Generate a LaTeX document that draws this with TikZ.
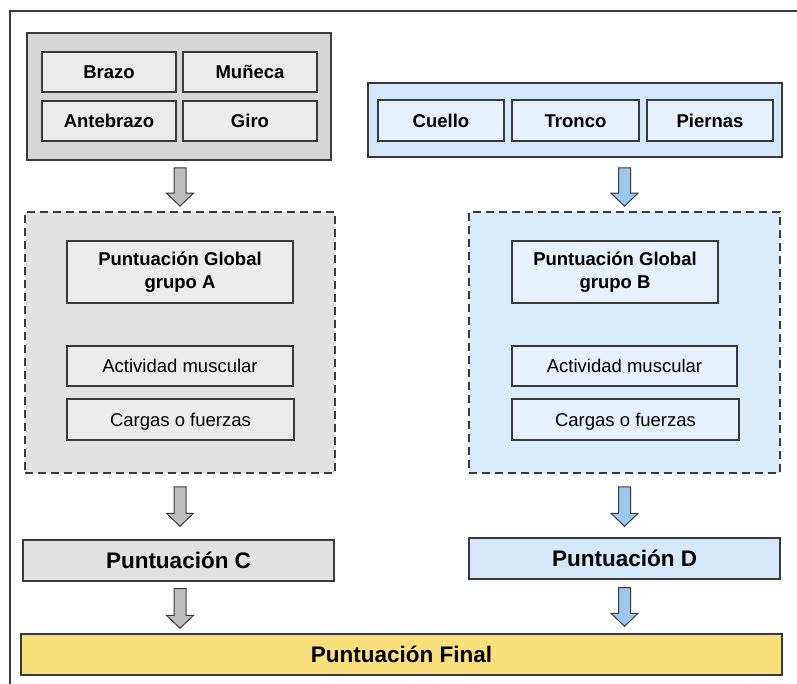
\documentclass[tikz,border=0pt]{standalone}
\usepackage{fontspec}
\setmainfont{Liberation Sans}
\usetikzlibrary{calc}

\definecolor{edge}{HTML}{3A3A3A}
\definecolor{grayout}{HTML}{D6D6D6}
\definecolor{grayin}{HTML}{ECECEC}
\definecolor{graydash}{HTML}{E2E2E2}
\definecolor{grayarr}{HTML}{BDBDBD}
\definecolor{blueout}{HTML}{D5E8FA}
\definecolor{bluein}{HTML}{E6F1FC}
\definecolor{bluedash}{HTML}{DAEBFB}
\definecolor{bluearr}{HTML}{9CC7F0}
\definecolor{finalfill}{HTML}{F9E07C}

\tikzset{
  box/.style={draw=edge, line width=1.4pt, inner sep=0pt, align=center,
    font=\fontsize{18.5}{23}\selectfont},
  oneline/.style={text height=13.3pt, text depth=0pt},
  part/.style={box, font=\bfseries\fontsize{18.5}{23}\selectfont},
  score/.style={box, text height=16.2pt, text depth=0pt, font=\bfseries\fontsize{22.5}{26}\selectfont},
  group/.style={draw=edge, line width=1.6pt, inner sep=0pt},
  dashgroup/.style={draw=edge, line width=1.7pt, inner sep=0pt, dash pattern=on 8pt off 5pt},
  blockarrow/.style={draw=edge, line width=1pt,
    to path={let \p1=(\tikztostart), \p2=(\tikztotarget) in
      (\x1-6pt,\y1) -- (\x1+6pt,\y1) -- (\x1+6pt,\y2+13pt) -- (\x1+13.5pt,\y2+13pt)
      -- (\x1,\y2) -- (\x1-13.5pt,\y2+13pt) -- (\x1-6pt,\y2+13pt) -- cycle}},
  grayarrow/.style={blockarrow, fill=grayarr},
  bluearrow/.style={blockarrow, fill=bluearr}
}

\begin{document}
\begin{tikzpicture}[x=1pt, y=-1pt]
  \useasboundingbox (0,0) rectangle (797,683);
  \draw[edge, line width=1.5pt] (10,690) -- (10,11) -- (800,11);

  \node[group, fill=grayout, minimum width=304pt, minimum height=127pt] (grpA) at (179,96.5) {};
  \node[part, oneline, fill=grayin, minimum width=134pt, minimum height=40pt] (brazo) at (109,72) {Brazo};
  \node[part, oneline, fill=grayin, minimum width=134pt, minimum height=40pt] (muneca) at (250,72) {Muñeca};
  \node[part, oneline, fill=grayin, minimum width=134pt, minimum height=40pt] (antebrazo) at (109,121) {Antebrazo};
  \node[part, oneline, fill=grayin, minimum width=134pt, minimum height=40pt] (giro) at (250,121) {Giro};

  \node[group, fill=blueout, minimum width=414pt, minimum height=74pt] (grpB) at (575,120) {};
  \node[part, oneline, fill=bluein, minimum width=126pt, minimum height=41pt] (cuello) at (441,120.5) {Cuello};
  \node[part, oneline, fill=bluein, minimum width=127pt, minimum height=41pt] (tronco) at (575.5,120.5) {Tronco};
  \node[part, oneline, fill=bluein, minimum width=126pt, minimum height=41pt] (piernas) at (710,120.5) {Piernas};

  \node[dashgroup, fill=graydash, minimum width=310pt, minimum height=261pt] (dashA) at (180,342.5) {};
  \node[part, fill=grayin, minimum width=226pt, minimum height=62pt] (globA) at (180,272) {Puntuación Global\\grupo A};
  \node[box, oneline, fill=grayin, minimum width=226pt, minimum height=40pt] (actA) at (180,366) {Actividad muscular};
  \node[box, oneline, fill=grayin, minimum width=227pt, minimum height=41pt] (cargA) at (180.5,419.5) {Cargas o fuerzas};

  \node[dashgroup, fill=bluedash, minimum width=311pt, minimum height=261pt] (dashB) at (624.5,342.5) {};
  \node[part, fill=bluein, minimum width=206pt, minimum height=62pt] (globB) at (615,272) {Puntuación Global\\grupo B};
  \node[box, oneline, fill=bluein, minimum width=225pt, minimum height=40pt] (actB) at (624.5,366) {Actividad muscular};
  \node[box, oneline, fill=bluein, minimum width=227pt, minimum height=41pt] (cargB) at (625.5,419.5) {Cargas o fuerzas};

  \node[score, fill=graydash, minimum width=311pt, minimum height=41pt] (puntC) at (178.5,560.5) {Puntuación C};
  \node[score, fill=blueout, minimum width=311pt, minimum height=41pt] (puntD) at (624.5,558.5) {Puntuación D};
  \node[score, fill=finalfill, minimum width=761pt, minimum height=41pt] (final) at (401.5,654.5) {Puntuación Final};

  \draw[grayarrow] ($(grpA.south -| dashA.north)+(0,7)$) to ($(dashA.north)+(0,-5)$);
  \draw[bluearrow] ($(grpB.south -| dashB.north)+(0,10)$) to ($(dashB.north)+(0,-5)$);
  \draw[grayarrow] ($(dashA.south)+(0,13)$) to ($(puntC.north -| dashA.south)+(0,-13)$);
  \draw[bluearrow] ($(dashB.south)+(0,13)$) to ($(puntD.north -| dashB.south)+(0,-11)$);
  \draw[grayarrow] ($(puntC.south -| dashA.south)+(0,7)$) to ($(final.north -| dashA.south)+(0,-5)$);
  \draw[bluearrow] ($(puntD.south -| dashB.south)+(0,8)$) to ($(final.north -| dashB.south)+(0,-7)$);
\end{tikzpicture}
\end{document}
